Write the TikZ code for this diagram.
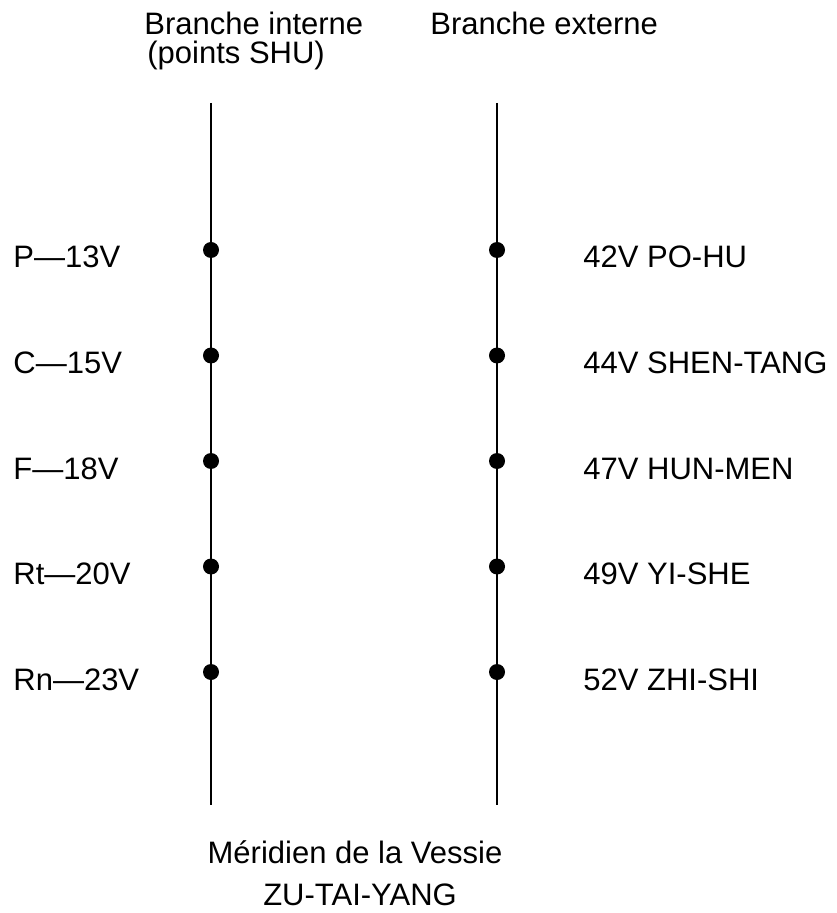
\documentclass[tikz,border=0pt]{standalone}
\usepackage{fontspec}
\setmainfont{Liberation Sans}
\usetikzlibrary{positioning}

\tikzset{
  dot/.style={circle,fill=black,inner sep=0pt,minimum size=8pt},
  txt/.style={font=\fontsize{15.5}{18}\selectfont,inner sep=0pt},
}

\begin{document}
\begin{tikzpicture}[x=0.5pt,y=-0.5pt]
\useasboundingbox (0,0) rectangle (836,913);
%\draw[step=50,gray,very thin] (0,0) grid (836,913); %background grid

% headings
\node[txt,anchor=base west] (hint) at (144,35) {Branche interne};
\node[txt,anchor=base west] (hshu) at (147,64) {(points SHU)};
\node[txt,anchor=base west] (hext) at (430,35) {Branche externe};

% the two branches
\coordinate (itop) at (211,103);
\coordinate (ibot) at (211,805);
\coordinate (etop) at (497,103);
\coordinate (ebot) at (497,805);
\draw[line width=1pt] (itop) -- (ibot);
\draw[line width=1pt] (etop) -- (ebot);

% points on each branch
\foreach \i/\l/\r [count=\n from 0] in {p/P---13V/42V PO-HU,
                                         c/C---15V/44V SHEN-TANG,
                                         f/F---18V/47V HUN-MEN,
                                         rt/Rt---20V/49V YI-SHE,
                                         rn/Rn---23V/52V ZHI-SHI}
{
  \node[dot] (i\i) at (211,250+105.5*\n) {};
  \node[dot] (e\i) at (497,250+105.5*\n) {};
  \node[txt,anchor=base west] (li\i) at (13,268+105.5*\n) {\l};
  \node[txt,anchor=base west] (le\i) at (583,268+105.5*\n) {\r};
}

% title at the bottom
\node[txt,anchor=base] (mer) at (355,863) {Méridien de la Vessie};
\node[txt,anchor=base] (zty) at (360,905) {ZU-TAI-YANG};

\end{tikzpicture}
\end{document}
